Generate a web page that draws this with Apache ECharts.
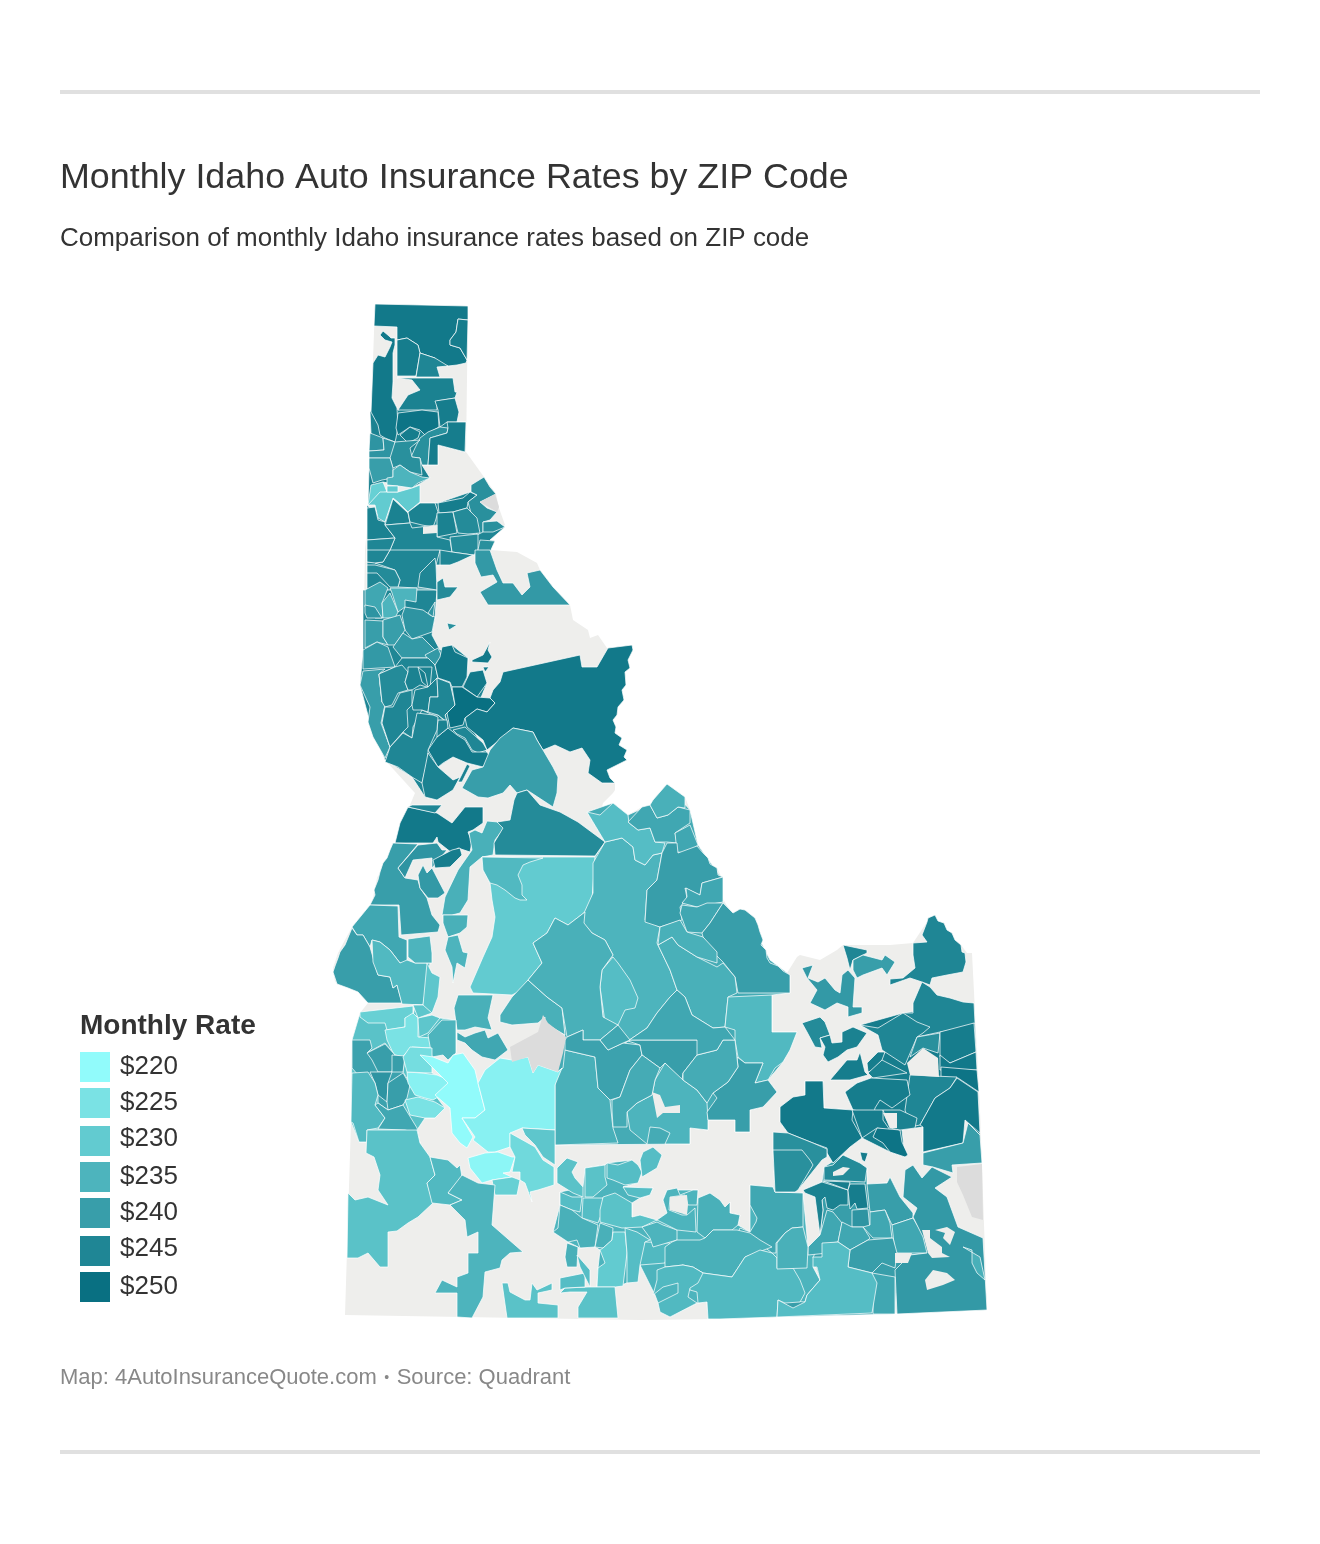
<!DOCTYPE html>
<html lang="en">
<head>
<meta charset="UTF-8">
<title>Monthly Idaho Auto Insurance Rates by ZIP Code</title>
<style>
	html, body { margin: 0; padding: 0; background: #fff; }
	#chart { width: 1320px; height: 1544px; }
</style>
</head>
<body>
<div id="chart"></div>
<script src="https://cdn.jsdelivr.net/npm/echarts@6/dist/echarts.min.js"></script>
<script>
// legend
var legendRates = [220, 225, 230, 235, 240, 245, 250];
var legendColors = ['#91fbfb', '#7ae2e4', '#62cbd0', '#4db4bd', '#389eaa', '#1f8695', '#097082'];

// monthly rate of each traced ZIP area, same order as the outlines below
var broadRates = [246,245,245,237,235,240,247,232];
var panhandleRates = [248,247,247,245,248,246,247,249,247,243, 247,242,242,243,240,235,229,230,230,246, 246,246,247,243,243,246,244,245,244,243, 245];
var northRates = [245,245,244,245,245,241,244,243,238,235, 235,242,242,242,240,240,241,241,241,240, 245,244,246,245,247,246,245,248,248,248, 248,250,248,245,248,246,245,246,246,240];
var westRates = [248,245,236,244,240,242,247,241,238,240, 234,235,231,236,235,230,234,236,236];
var centralRates = [235,233,233,238,236,238,240,238,238,240, 236,236,236,236,239,240,235,237,234,240, 237,238,238];
var valleyRates = [229,225,231,231,235,238,239,240,242,240, 240,234,238,225,222,226,220,222,221,227, 229,231,232,234,235,232];
var southRates = [232,232,233,233,233,233,232,233,236,236, 230,233,234,235,235,236,238,236,234,234, 232,233,236,233];
var eastRates = [245,245,245,240,241,244,246,247,247,246, 245,243,247,248,249,245,248,247,248,243, 243,247,249,246,247,240,246,247,247,244, 238,242,240,238,238,238,240,241,238,233, 236,236];

// map outlines, flat x,y lists in the map's own units (one unit is one pixel of the source map)
var stateOutline = [375,304,468,306,466,452,484,477,496,494,499,508,505,525,490,535,490,550,517,552,537,563,540,570,553,587,570,605,573,620,588,630,590,638,598,635,607,648,632,645,633,650,628,660,630,668,625,672,626,685,622,690,624,700,618,707,617,715,613,720,616,727,615,733,622,738,619,745,627,750,624,757,627,760,617,765,607,770,610,778,615,783,615,790,613,793,603,803,600,815,613,803,628,815,642,807,650,805,667,784,685,797,690,810,692,827,698,845,703,853,708,858,710,864,717,868,723,880,720,893,728,908,733,913,740,909,745,910,750,914,755,918,758,925,760,932,763,940,761,945,766,950,767,958,770,963,778,966,787,973,797,957,788,963,800,955,820,960,837,950,843,945,890,945,913,943,927,922,928,918,935,915,938,921,944,923,947,930,952,933,955,940,961,945,967,953,972,953,980,1110,987,1310,720,1319,640,1320,345,1315,351,1122,352,1040,360,1013,368,1003,358,992,335,982,333,968,338,953,352,927,372,903,377,878,395,843,410,805,415,793,385,760,370,723,360,685,363,670,365,550,367,528];

// broad fills that sit under the traced areas of each part of the state
var broadOutlines = [
	[370,412,371,433,369,468,368,505,373,502,383,482,412,488,430,478,422,465,438,465,438,445,465,452,466,422,457,422,455,398,437,401,398,410,397,408,392,398,393,382],
	[367,505,385,522,393,499,408,513,420,503,438,503,470,492,477,495,483,522,505,527,490,540,495,541,490,550,440,565,436,565,437,590,367,590],
	[363,590,437,590,435,617,432,635,440,650,452,645,468,658,467,680,487,683,480,700,495,703,487,712,465,718,490,757,483,767,467,763,453,757,438,767,453,780,437,800,425,797,412,777,385,760,370,723,360,685,363,650],
	[595,857,605,842,587,812,613,803,628,815,650,805,667,784,690,810,698,845,723,880,723,902,733,913,745,910,770,960,790,975,790,993,772,995,772,1032,797,1032,783,1062,768,1080,777,1092,763,1107,750,1110,750,1132,735,1132,735,1120,708,1120,708,1130,690,1128,690,1144,555,1145,555,1073,565,1040,562,1008,528,980,542,963,533,943,555,918,592,900],
	[560,1192,583,1187,585,1168,605,1165,607,1163,632,1160,642,1172,638,1183,623,1187,653,1188,650,1195,640,1198,632,1203,632,1217,657,1220,667,1213,663,1200,667,1190,698,1190,695,1205,710,1193,725,1207,730,1202,730,1213,740,1215,738,1225,750,1232,750,1185,773,1187,775,1192,803,1193,808,1247,820,1235,822,1243,822,1257,813,1267,820,1280,807,1295,805,1302,778,1317,708,1319,707,1302,697,1303,670,1317,658,1303,655,1295,640,1265,627,1283,615,1287,597,1287,598,1268,600,1250,595,1247,580,1248,568,1242,553,1232,560,1205],
	[824,1167,843,1155,860,1163,867,1168,867,1184,887,1183,890,1177,900,1197,913,1213,913,1218,923,1235,928,1253,910,1255,897,1270,895,1314,777,1317,778,1300,805,1302,820,1280,813,1257,822,1243,820,1235,823,1210,822,1200,803,1190,822,1182],
	[860,1025,903,1013,974,1003,980,1135,965,1120,963,1143,923,1152,923,1127,902,1130,905,1157,890,1152,862,1138,850,1147,833,1163,827,1150,788,1133,780,1122,780,1107,805,1095,805,1081,823,1081,824,1108,853,1110,845,1092,857,1083,871,1078,873,1070,885,1052,878,1035],
	[352,1040,360,1013,440,1018,456,1020,456,1053,420,1055,432,1073,450,1082,435,1095,445,1108,435,1118,425,1118,417,1130,367,1130,367,1142,359,1142,351,1122]
];

var panhandleOutlines = [
	[375,304,468,306,468,320,458,319,456,332,450,340,450,345,460,348,467,360,466,363,457,365,448,366,437,365,435,358,420,353,418,345,407,338,397,340,397,327,374,326],
	[458,319,468,320,467,360,460,348,450,345,450,340,456,332],
	[397,340,407,338,418,345,420,353,416,376,397,376],
	[420,353,435,358,448,366,437,367,440,377,416,377],
	[373,363,378,355,385,357,390,347,392,342,385,340,380,335,383,331,389,336,391,338,395,338,395,345,393,353,393,382,392,398,397,408,398,427,396,438,395,442,385,438,380,435,378,425,371,412],
	[397,378,453,378,455,392,457,392,455,398,437,401,437,410,422,410,398,410,408,395,420,390,412,380],
	[435,401,455,398,459,412,457,422,447,422,440,427,438,410],
	[398,413,422,410,438,412,439,427,425,435,420,430,410,427,398,435,396,428],
	[400,435,410,427,420,432,418,438,408,443],
	[420,438,428,432,440,427,448,428,447,433,430,438,428,465,422,465,420,458,411,457,415,448],
	[447,422,466,422,465,452,438,445,438,465,428,465,430,438,447,433,448,428],
	[370,433,383,438,384,450,369,451],
	[383,438,395,442,395,458,390,458,383,458,369,458,369,451,384,450],
	[395,442,420,440,410,448,412,457,420,458,422,475,410,472,400,465,393,468,390,458],
	[369,458,390,458,393,468,393,478,382,480,373,483,369,468],
	[393,470,400,465,410,472,422,477,430,478,418,483,412,488,398,486,387,485,387,478,393,477],
	[371,485,383,482,387,492,380,493,373,502,368,505],
	[380,492,398,492,412,488,420,485,420,502,408,512,398,502,393,498,385,522,378,518,375,505,368,505],
	[387,486,398,486,398,492,387,492],
	[367,508,375,507,378,520,385,522,385,525,395,538,367,540],
	[393,499,408,513,410,523,385,525],
	[408,512,420,503,435,503,438,512,435,522,433,527,422,525,410,522],
	[438,503,463,498,470,492,477,495,468,502,467,508,453,512,439,513],
	[471,485,484,477,490,487,496,494,480,502,487,508,497,512,490,520,483,522,483,532,477,535,468,502,477,495,471,492],
	[483,522,497,521,505,527,493,532,483,532],
	[437,513,453,512,457,533,437,537],
	[453,512,467,508,477,518,480,533,468,534,458,533],
	[385,525,410,523,412,528,437,525,437,537,450,540,452,552,388,555,395,538],
	[450,537,478,534,478,552,473,555,452,552],
	[480,540,495,541,490,552,477,555],
	[367,540,395,538,388,555,383,563,367,562]
];

var northOutlines = [
	[390,550,440,550,436,565,437,588,417,588,398,587,400,580,395,570,375,563,383,562],
	[367,550,390,550,383,562,375,563,367,562],
	[367,565,375,565,395,570,400,580,398,587,390,587,377,573,367,573],
	[418,587,420,573,435,558,436,565,437,590],
	[440,550,452,552,473,555,458,562,450,565,440,565],
	[475,550,490,550,497,570,503,583,513,583,522,595,530,587,527,573,540,570,553,587,570,605,488,605,480,592,497,582,493,575,481,577,475,563],
	[437,582,443,578,445,587,458,587,450,597,437,600],
	[447,623,457,625,449,630],
	[365,590,380,582,388,588,382,603,383,618,375,618,365,607],
	[390,588,417,588,416,602,405,600,405,607,398,612,392,593],
	[390,593,398,612,395,618,383,618,382,603],
	[365,605,375,607,382,618,367,618,365,613],
	[405,607,423,610,430,615,435,617,432,632,412,639,405,630,402,615],
	[428,613,435,602,433,617],
	[365,620,383,621,383,637,388,645,377,642,365,648],
	[383,620,400,615,405,630,395,645,388,645,383,637],
	[393,647,403,633,412,639,422,637,435,650,428,658,402,658],
	[363,650,377,642,388,647,395,667,363,669],
	[425,655,438,648,442,657,435,665,427,658],
	[363,671,385,669,379,674,382,702,385,705,381,723,390,747,385,758,373,737,368,722,370,707,360,685],
	[379,674,395,667,402,658,428,658,435,665,438,678,450,683,455,705,445,715,447,723,438,715,433,715,422,710,413,727,412,738,403,732,390,747,382,723,385,705,382,702],
	[395,667,402,665,408,672,405,682,408,690,398,693,392,705,385,707,382,702,379,674],
	[408,667,432,667,430,688,420,685,412,690,408,690,405,682,408,672],
	[393,707,400,693,412,690,412,705,407,710,408,727,403,732,390,747,382,723,385,707],
	[418,667,422,682,428,687,425,673],
	[415,690,428,687,437,678,438,697,430,697,428,712,422,710,413,710,412,705],
	[437,678,450,683,455,705,445,715,447,722,438,715,428,712,430,697,438,697],
	[440,657,442,647,452,645,455,652,468,658,467,677,462,687,452,687,450,682,438,678,435,665],
	[470,672,483,670,487,683,477,697,463,687],
	[472,660,483,655,490,642,488,650,492,657,488,663,472,662],
	[483,667,489,667,485,672],
	[452,687,462,687,477,697,490,698,495,703,487,712,477,709,465,718,463,725,450,728,447,713,455,705],
	[503,672,580,655,582,667,597,667,608,648,632,645,633,650,628,660,630,668,625,672,626,685,622,690,624,700,618,707,617,715,613,720,616,727,615,733,622,738,619,745,627,750,624,757,627,760,617,765,607,770,610,778,615,783,602,783,588,773,590,760,582,748,570,752,555,745,543,750,537,740,533,732,513,728,497,742,487,750,483,740,467,727,465,718,477,709,487,712,495,703,490,698,493,690,500,682],
	[453,730,465,727,483,743,487,750,478,753,472,750,465,738,457,734],
	[428,750,437,737,448,728,457,735,465,740,472,752,487,752,490,757,483,767,467,763,453,757,443,763,438,767],
	[438,720,447,720,448,728,437,737,437,730],
	[390,747,403,733,412,738,417,713,433,715,438,717,437,730,428,750,428,758,422,783,412,777,398,767,385,762],
	[428,753,438,767,453,780,460,777,453,790,437,800,425,797,422,783],
	[467,764,470,766,462,782,458,782],
	[462,788,472,770,483,767,490,750,500,738,513,728,533,732,537,740,543,750,553,767,558,777,557,793,553,807,527,790,517,793,510,785,503,793,488,798,478,797]
];

var westOutlines = [
	[395,843,400,823,408,807,437,813,452,823,465,807,483,807,483,823,473,830,468,832,472,842,470,852,458,848,452,853,438,842,437,837,433,843],
	[408,807,412,805,442,805,435,813],
	[487,821,498,822,504,828,495,840,493,855,482,857,470,867,468,900,460,913,452,915,442,915,445,897,458,870,472,850,469,833,475,830,482,833],
	[497,822,510,820,514,800,517,793,527,790,540,805,560,812,578,822,605,842,595,856,495,855,494,843,503,828],
	[393,843,418,844,398,868,405,878,418,880,420,888,427,898,432,915,440,925,438,932,401,935,399,905,370,905,375,895,374,890,378,880,380,872,383,863,387,858,390,850],
	[418,845,437,843,442,850,447,850,432,868,432,858,413,860,405,878,398,868],
	[433,860,452,850,460,848,462,855,450,867,435,868],
	[418,875,423,865,427,873,432,868,445,893,438,898,428,898,420,888],
	[352,927,370,905,398,906,399,937,407,940,407,962,415,963,405,963,400,963,390,950,380,942,372,940,370,947,363,935,357,935],
	[352,928,357,935,363,935,370,947,378,975,390,977,393,988,397,985,402,1003,368,1003,358,992,348,988,337,984,333,972,335,966,338,958,340,952,345,945],
	[372,940,380,942,390,950,400,963,407,960,415,963,430,963,423,1005,402,1004,397,985,393,988,390,977,378,975,373,962],
	[408,939,430,936,432,953,432,963,415,963,408,957],
	[427,963,432,973,440,977,438,997,432,1013,413,1017,415,1005,423,1005],
	[443,915,468,915,467,927,460,933,448,937,443,923],
	[448,937,458,935,463,952,468,953,465,968,457,963,453,983,452,967,445,950],
	[482,857,595,857,592,900,585,912,568,925,555,918,547,933,533,943,542,963,528,980,522,990,512,995,473,993,470,987,483,957,492,937,495,917,492,900,490,883,483,870],
	[482,857,543,858,530,862,523,865,518,875,522,885,522,895,527,900,520,900,515,898,505,890,497,885,490,883,483,870],
	[454,1008,458,995,493,995,488,1018,492,1030,475,1027,465,1030,457,1030],
	[500,1015,512,997,528,980,547,997,562,1008,565,1035,545,1023,545,1017,538,1023,512,1025,500,1022]
];

var centralOutlines = [
	[605,842,622,838,633,847,635,860,645,865,653,855,662,853,657,880,647,890,645,920,660,927,657,943,670,970,677,990,670,997,657,1013,647,1028,625,1043,617,1023,603,1017,600,987,602,970,613,955,605,940,592,933,583,923,584,913,593,893,593,863],
	[613,957,618,963,630,980,638,998,635,1008,625,1010,618,1025,605,1022,600,987,602,970],
	[587,812,600,815,613,803,628,815,629,823,638,830,650,828,655,842,665,843,662,853,653,855,645,865,635,860,633,847,622,838,605,842],
	[628,822,642,807,650,805,657,818,668,815,678,807,690,810,690,823,675,833,677,843,667,842,655,842,650,828,638,830],
	[650,805,653,800,667,784,685,797,685,808,678,807,668,815,657,818],
	[675,833,690,825,698,845,688,853,677,852],
	[667,843,677,843,678,853,697,846,703,853,708,858,710,864,717,868,718,875,723,877,702,883,700,895,685,888,687,898,680,907,682,920,660,927,645,922,647,890,657,880,662,853],
	[702,883,723,877,723,893,723,902,707,905,697,907,682,903,687,897,686,888,700,895],
	[682,905,697,907,707,903,723,903,710,923,702,933,687,932,680,913],
	[723,903,728,908,733,913,740,909,745,910,750,914,755,918,758,925,760,932,763,940,761,945,766,950,767,958,770,963,778,966,783,971,790,975,790,993,738,993,735,977,723,962,713,952,703,937,702,933,710,923],
	[658,945,672,937,678,945,697,957,717,967,723,963,735,977,737,993,728,997,725,1027,713,1028,692,1015,685,997,677,990,670,970],
	[660,927,680,920,687,932,703,937,717,952,717,963,697,957,678,945,672,937,658,945],
	[533,943,547,933,555,918,568,925,585,912,584,923,592,933,605,940,613,955,602,970,600,987,603,1017,618,1025,600,1040,583,1040,583,1030,567,1037,562,1008,547,997,528,980,542,963],
	[565,1050,595,1057,598,1088,610,1100,612,1120,613,1128,618,1143,555,1145,555,1073,563,1068],
	[565,1040,567,1037,583,1030,583,1040,600,1040,608,1050,623,1043,640,1045,642,1055,630,1070,620,1097,610,1100,598,1088,595,1057,565,1050],
	[625,1040,697,1040,720,1040,717,1050,697,1055,683,1073,682,1080,665,1063,660,1068,642,1055,640,1045],
	[665,1063,683,1080,697,1090,707,1103,708,1120,708,1130,690,1128,690,1144,665,1144,670,1133,660,1128,650,1127,647,1144,630,1130,627,1112,637,1103,652,1095,655,1080],
	[642,1055,660,1068,655,1080,652,1095,637,1103,627,1112,627,1127,613,1127,612,1110,612,1100,620,1097,630,1070],
	[728,997,772,995,772,1032,797,1032,790,1050,783,1062,775,1068,768,1080,755,1083,763,1063,745,1063,738,1057,735,1040,735,1030,725,1027],
	[737,1057,745,1063,763,1063,755,1083,768,1080,777,1092,763,1107,750,1110,750,1132,735,1132,735,1120,708,1120,707,1112,717,1098,713,1093,728,1082,738,1067],
	[683,1073,697,1055,717,1050,723,1040,735,1040,738,1067,728,1082,713,1093,707,1103,697,1090,683,1080],
	[677,990,685,997,692,1015,713,1028,725,1027,735,1040,723,1040,717,1050,697,1055,697,1040,625,1040,625,1043,647,1028,657,1013,670,997],
	[600,1040,618,1025,630,1040,623,1043,608,1050]
];

var valleyOutlines = [
	[360,1012,413,1006,413,1017,405,1018,405,1027,387,1030,385,1023,368,1023,360,1017],
	[385,1030,405,1027,405,1018,413,1013,418,1018,418,1037,432,1038,432,1048,412,1047,402,1057,395,1057,387,1040],
	[418,1018,432,1015,440,1018,428,1033,419,1037],
	[413,1005,423,1005,432,1013,418,1018],
	[428,1035,442,1020,456,1020,456,1053,448,1060,443,1055,432,1057],
	[457,1032,465,1037,475,1033,485,1030,488,1038,498,1033,508,1050,495,1060,482,1057,472,1050,465,1043,457,1040],
	[352,1040,370,1040,372,1048,367,1053,385,1043,395,1055,405,1057,403,1072,410,1083,403,1105,388,1110,378,1103,378,1095,365,1083,352,1068],
	[367,1053,385,1044,395,1055,392,1072,378,1072,372,1060],
	[370,1072,392,1072,388,1083,387,1102,378,1095,375,1083],
	[392,1055,405,1056,403,1072,392,1072],
	[388,1083,403,1073,410,1085,407,1098,403,1105,388,1110,387,1102],
	[352,1073,368,1072,375,1083,378,1095,375,1105,385,1118,378,1128,367,1130,367,1142,359,1142,353,1123,351,1122],
	[375,1105,378,1103,388,1110,403,1105,417,1128,420,1143,417,1133,405,1130,378,1129,385,1118],
	[405,1100,418,1097,435,1102,445,1108,435,1118,425,1118,410,1115],
	[407,1072,422,1073,437,1075,453,1082,438,1097,433,1100,425,1098,415,1095,408,1083],
	[403,1057,410,1047,432,1048,432,1055,432,1073,407,1072],
	[420,1055,433,1057,448,1063,453,1055,463,1053,475,1070,478,1083,485,1110,475,1118,462,1118,473,1137,467,1148,460,1143,452,1133,450,1108,435,1095,448,1083,438,1073,425,1060],
	[478,1083,485,1070,500,1058,512,1060,528,1057,533,1073,538,1065,558,1072,562,1068,555,1085,555,1130,522,1128,510,1133,510,1147,495,1152,488,1152,473,1140,475,1137,462,1118,475,1118,485,1110],
	[468,1158,485,1153,498,1152,512,1157,515,1157,510,1172,503,1173,512,1177,492,1180,482,1183,470,1168],
	[510,1133,528,1143,535,1147,543,1160,554,1167,554,1185,538,1190,530,1192,532,1202,525,1183,520,1180,520,1172,512,1172,515,1157,510,1147],
	[492,1180,512,1177,520,1180,517,1195,495,1195],
	[522,1128,555,1130,555,1165,543,1157,535,1145,525,1135],
	[367,1130,417,1130,420,1143,430,1157,435,1175,427,1183,433,1203,418,1217,408,1223,397,1231,388,1232,388,1267,380,1267,368,1253,358,1258,347,1258,348,1193,355,1200,368,1197,388,1205,378,1190,380,1175,374,1157,366,1153],
	[430,1157,448,1160,457,1168,460,1165,462,1177,448,1193,462,1200,450,1205,432,1203,427,1183,435,1175],
	[462,1175,478,1183,495,1185,492,1225,523,1252,510,1253,502,1260,500,1268,485,1272,483,1297,472,1318,457,1317,457,1293,435,1293,442,1280,457,1287,457,1277,468,1273,468,1253,478,1253,478,1232,467,1237,465,1220,450,1205,462,1200,448,1193],
	[502,1283,508,1283,510,1292,525,1300,530,1300,532,1283,537,1290,552,1283,552,1290,538,1293,538,1303,558,1305,558,1318,507,1318]
];

var southOutlines = [
	[557,1168,567,1158,578,1162,572,1172,575,1178,583,1187,583,1197,573,1193,557,1183],
	[585,1168,605,1165,605,1177,607,1185,593,1197,585,1197],
	[607,1163,618,1165,632,1160,638,1165,642,1172,638,1183,625,1185,613,1180,607,1178],
	[643,1152,653,1147,662,1155,657,1168,642,1177,640,1160],
	[560,1192,572,1197,582,1197,580,1212,572,1210,560,1205],
	[583,1198,603,1198,603,1210,598,1223,582,1218],
	[603,1197,615,1193,632,1203,632,1217,640,1215,657,1220,642,1227,622,1228,600,1222,600,1210],
	[623,1187,653,1188,650,1195,640,1198,628,1195],
	[560,1205,572,1210,582,1218,598,1225,595,1247,580,1248,577,1240,568,1242,553,1232,558,1228],
	[600,1223,613,1228,612,1240,603,1248,595,1247],
	[613,1232,625,1232,627,1253,623,1286,615,1287,597,1287,598,1268,605,1263,600,1250,603,1248,612,1240],
	[625,1228,637,1232,650,1240,645,1242,645,1263,640,1265,638,1282,627,1283,627,1253],
	[645,1242,670,1243,665,1263,640,1265],
	[642,1227,657,1222,663,1225,677,1230,677,1240,653,1247,650,1238],
	[667,1190,677,1188,680,1195,693,1190,698,1190,697,1205,688,1205,685,1195,670,1197,669,1210,682,1215,687,1215,695,1208,696,1232,677,1230,667,1225,657,1220,667,1213,663,1200],
	[698,1198,710,1193,720,1200,725,1207,730,1202,730,1213,740,1215,738,1225,732,1230,713,1230,705,1238,697,1232],
	[750,1185,773,1187,775,1192,803,1193,803,1227,792,1228,785,1233,776,1243,776,1253,772,1253,758,1242,745,1236,738,1233,740,1228,750,1232,756,1222,757,1218,750,1205],
	[705,1238,713,1230,737,1230,750,1233,760,1240,772,1247,745,1257,732,1277,703,1273,693,1267,683,1265,665,1267,665,1247,672,1242,677,1240,700,1240],
	[693,1268,703,1273,732,1277,745,1257,760,1250,772,1253,777,1258,777,1268,793,1268,800,1280,805,1293,800,1302,785,1303,778,1300,777,1317,720,1319,708,1319,707,1302,698,1303,697,1292,690,1290,682,1265],
	[657,1270,665,1267,683,1265,693,1267,703,1273,698,1283,690,1288,688,1297,697,1303,670,1317,660,1312,658,1303,678,1293,678,1283,663,1287,653,1295,657,1280],
	[560,1293,570,1292,587,1292,578,1307,578,1318,618,1318,615,1287,588,1287,588,1288,565,1288],
	[560,1278,585,1273,585,1287,565,1288,560,1290],
	[567,1243,578,1247,577,1267,567,1267,565,1257],
	[577,1255,590,1270,590,1287,580,1267]
];

var eastOutlines = [
	[913,943,927,942,922,935,927,922,928,918,935,915,938,921,944,923,947,930,952,933,955,940,961,945,962,952,965,953,966,962,963,972,947,975,932,978,930,985,922,982,910,978,890,985,890,979,903,978,915,968,913,955],
	[922,982,930,987,937,995,950,998,963,1002,974,1003,975,1023,963,1028,940,1032,917,1037,905,1035,898,1025,903,1013,913,1013,913,1003],
	[843,945,867,950,867,953,853,960,850,970,847,958],
	[853,960,863,955,882,960,885,955,895,962,887,975,882,968,863,975,857,978,853,970],
	[802,968,813,965,808,978,818,982,825,978,835,990,840,993,842,975,848,970,855,978,853,1007,862,1007,862,1013,848,1017,848,1007,837,1003,825,1010,810,1003,817,990,807,978],
	[802,1023,820,1017,825,1022,830,1035,820,1038,822,1048,815,1047,807,1032],
	[820,1038,830,1035,832,1043,842,1042,842,1032,853,1027,867,1033,857,1047,847,1050,838,1057,828,1062,823,1055,825,1047],
	[830,1080,847,1060,857,1060,860,1052,865,1072,868,1075,850,1080],
	[867,1063,878,1052,885,1052,882,1060,873,1070,868,1072],
	[868,1073,882,1060,907,1073,873,1078],
	[860,1025,878,1028,903,1013,917,1022,930,1027,923,1033,917,1037,905,1065,882,1050,878,1035],
	[917,1037,940,1033,938,1053,923,1048,910,1057],
	[940,1032,974,1023,976,1052,950,1063,940,1057],
	[940,1055,950,1063,976,1052,977,1070,940,1070],
	[941,1067,977,1070,979,1092,958,1078,941,1077],
	[910,1075,957,1077,950,1088,935,1098,920,1125,910,1127,905,1110],
	[957,1078,978,1092,980,1133,965,1120,963,1143,923,1152,923,1127,920,1125,935,1098,950,1088],
	[871,1078,907,1080,910,1095,892,1108,880,1100,875,1108,874,1113,853,1110,845,1092,857,1083],
	[780,1107,793,1097,805,1095,805,1081,823,1081,824,1108,853,1110,852,1120,862,1138,850,1147,833,1163,827,1153,827,1148,813,1143,788,1133,780,1122],
	[773,1132,788,1133,813,1143,827,1149,827,1157,822,1160,798,1190,795,1192,775,1192,773,1150],
	[773,1150,802,1150,810,1160,813,1165,798,1190,795,1192,775,1192],
	[852,1110,883,1110,883,1120,890,1130,877,1128,862,1138],
	[877,1128,900,1130,902,1142,908,1155,905,1157,890,1152,883,1143,873,1137],
	[883,1110,900,1110,917,1118,915,1128,900,1130,890,1128],
	[860,1152,868,1153,865,1162,862,1160],
	[923,1153,963,1143,968,1123,980,1135,982,1163,952,1165,953,1173,933,1167,923,1165],
	[803,1190,822,1182,848,1190,848,1205,840,1205,833,1210,827,1208,825,1197,822,1200,823,1210,820,1235,815,1197,805,1193],
	[823,1181,850,1182,848,1190,832,1184],
	[850,1184,865,1184,868,1208,857,1209,855,1203,850,1209,848,1190],
	[824,1167,833,1165,843,1155,860,1163,867,1168,865,1182,824,1180],
	[827,1210,833,1212,842,1223,838,1242,830,1243,828,1253,808,1255,808,1247,820,1235],
	[852,1210,868,1209,870,1230,863,1227,852,1227],
	[867,1184,887,1183,890,1177,900,1197,913,1213,913,1218,892,1225,885,1210,870,1212],
	[870,1212,885,1210,890,1223,892,1238,873,1238,863,1227,870,1225],
	[842,1222,852,1227,863,1227,870,1238,868,1240,850,1250,838,1242],
	[892,1225,913,1218,923,1235,928,1253,895,1253],
	[850,1250,868,1240,893,1238,897,1253,895,1268,882,1263,872,1273,848,1267],
	[913,1217,917,1208,903,1197,905,1170,913,1165,922,1178,932,1167,952,1177,935,1188,947,1197,958,1227,983,1238,987,1310,897,1314,895,1270,910,1255,927,1253,923,1237],
	[872,1273,895,1277,895,1314,873,1314,873,1287],
	[822,1243,838,1242,850,1250,848,1267,872,1273,877,1283,872,1313,777,1317,778,1300,793,1308,805,1302,807,1295,820,1280,817,1267,813,1267,813,1257,822,1257],
	[777,1243,785,1233,792,1228,803,1227,808,1247,807,1268,777,1269],
	[963,1247,980,1257,985,1280,977,1273,972,1263,972,1250]
];

// places with no rate that sit inside traced outlines, and the darker grey ones
var noDataOutlines = [
	[423,527,437,525,437,533,423,534],
	[652,1092,660,1095,665,1107,680,1105,680,1113,663,1113,657,1118],
	[907,1063,923,1048,938,1058,939,1077,910,1075],
	[883,1113,897,1113,897,1128,890,1128],
	[833,1172,843,1167,850,1168,843,1175,833,1176],
	[922,1230,930,1230,930,1238,942,1247,942,1253,950,1257,932,1258,928,1253],
	[935,1230,947,1227,955,1232,950,1245,943,1238,945,1233],
	[925,1280,933,1270,947,1273,955,1280,943,1285,927,1290],
	[895,1253,912,1253,908,1263,895,1263],
	[670,1197,687,1195,688,1205,687,1215,670,1210]
];
var greyOutlines = [
	[480,502,495,494,499,507,497,512],
	[510,1047,538,1032,543,1015,548,1023,566,1037,563,1053,558,1072,538,1065,533,1073,528,1057,512,1062],
	[957,1167,982,1164,983,1220,972,1217,963,1195,957,1182]
];

var zipRates = [].concat(broadRates, panhandleRates, northRates, westRates, centralRates, valleyRates, southRates, eastRates);
var zipOutlines = [].concat(broadOutlines, panhandleOutlines, northOutlines, westOutlines, centralOutlines, valleyOutlines, southOutlines, eastOutlines);

function ring(flat){
	var pts = [];
	for (var i = 0; i < flat.length; i += 2) {
		pts.push([flat[i], flat[i + 1]]);
	}
	pts.push([flat[0], flat[1]]);
	return pts;
}
function feature(name, flat){
	return {type: 'Feature', properties: {name: name}, geometry: {type: 'Polygon', coordinates: [ring(flat)]}};
}

var features = [feature('state', stateOutline)];
var seriesData = [{name: 'state', value: NaN, itemStyle: {areaColor: '#eeeeec', borderWidth: 0}}];
zipOutlines.forEach(function (flat, i){
	features.push(feature('zip' + i, flat));
	seriesData.push({name: 'zip' + i, value: zipRates[i]});
});
noDataOutlines.forEach(function (flat, i){
	features.push(feature('none' + i, flat));
	seriesData.push({name: 'none' + i, value: NaN, itemStyle: {areaColor: '#eeeeec', borderWidth: 0}});
});
greyOutlines.forEach(function (flat, i){
	features.push(feature('grey' + i, flat));
	seriesData.push({name: 'grey' + i, value: NaN, itemStyle: {areaColor: '#dcdcdc', borderWidth: 0}});
});
echarts.registerMap('idaho', {type: 'FeatureCollection', features: features});

// rules, legend swatches and labels
var legendGraphics = [
	{type: 'rect', shape: {x: 60, y: 90, width: 1200, height: 4}, style: {fill: '#e0e0e0'}},
	{type: 'rect', shape: {x: 60, y: 1450, width: 1200, height: 4}, style: {fill: '#e0e0e0'}},
	{type: 'text', x: 80, y: 1026, style: {text: 'Monthly Rate', font: 'bold 28px "Liberation Sans", Arial, sans-serif', fill: '#333', textVerticalAlign: 'middle'}}
];
legendRates.forEach(function (rate, i){
	var top = 1052 + Math.round(i * 36.67 / 2) * 2;
	var labelY = 1067 + Math.floor(i * 36.67 / 2) * 2;
	legendGraphics.push({type: 'rect', shape: {x: 80, y: top, width: 30, height: 30}, style: {fill: legendColors[i]}});
	legendGraphics.push({type: 'text', x: 120, y: labelY, style: {text: '$' + rate, font: '26px "Liberation Sans", Arial, sans-serif', fill: '#333', textVerticalAlign: 'middle'}});
});

var myChart = echarts.init(document.getElementById('chart'), null, {renderer: 'canvas'});
myChart.setOption({
	animation: false,
	backgroundColor: '#fff',
	textStyle: {fontFamily: '"Liberation Sans", Arial, sans-serif'},
	title: [
		{text: 'Monthly Idaho Auto Insurance Rates by ZIP Code', left: 60, top: 160, padding: 0, textStyle: {fontSize: 35.84, fontWeight: 'normal', color: '#333'}},
		{text: 'Comparison of monthly Idaho insurance rates based on ZIP code', left: 60, top: 226, padding: 0, textStyle: {fontSize: 25.97, fontWeight: 'normal', color: '#333'}},
		{
			text: 'Map: 4AutoInsuranceQuote.com {dot|\u2022} Source: Quadrant',
			left: 60, top: 1367, padding: 0,
			textStyle: {fontSize: 22, fontWeight: 'normal', color: '#888', rich: {dot: {fontSize: 14, color: '#888', padding: [0, 1.4, 0, 1.4]}}}
		}
	],
	visualMap: {
		show: false,
		type: 'continuous',
		seriesIndex: 0,
		min: 220,
		max: 250,
		inRange: {color: legendColors}
	},
	graphic: legendGraphics,
	series: [{
		type: 'map',
		map: 'idaho',
		silent: true,
		roam: false,
		left: 333,
		top: 304,
		width: 654,
		height: 1016,
		projection: {
			project: function (p){ return p; },
			unproject: function (p){ return p; }
		},
		label: {show: false},
		emphasis: {disabled: true},
		select: {disabled: true},
		itemStyle: {areaColor: '#eeeeec', borderColor: 'rgba(255,255,255,0.8)', borderWidth: 0.9},
		data: seriesData
	}]
});
</script>
</body>
</html>
